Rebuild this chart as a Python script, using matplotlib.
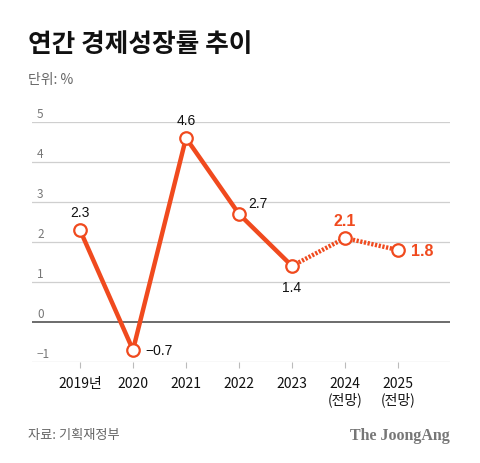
import matplotlib
matplotlib.use("Agg")
from matplotlib import pyplot as plt

plt.rcParams['font.family'] = ['Noto Sans CJK KR', 'DejaVu Sans']

years = ['2019년', '2020', '2021', '2022', '2023', '2024\n(전망)', '2025\n(전망)']
growth = [2.3, -0.7, 4.6, 2.7, 1.4, 2.1, 1.8]
n_actual = 5  # 2019~2023 actual, rest forecast

orange = '#F04A1E'
x = list(range(len(years)))

fig = plt.figure(figsize=(4.8, 4.64), dpi=100)
ax = fig.add_axes([32/480, 101/464, 418/480, 240/464])
ax.set_xlim((32-80)/53, (450-80)/53)
ax.set_ylim(-1, 5)

# grid
for v in range(-1, 6):
    if v == 0:
        ax.axhline(v, color='#6b6b6b', lw=1.4, zorder=1)
    else:
        ax.axhline(v, color='#cfcfcf', lw=0.9, zorder=1)
    ax.text((37-80)/53, v + 0.06, '−1' if v == -1 else str(v),
            color='#777777', fontsize=8.5, va='bottom', ha='left')

# lines
ax.plot(x[:n_actual], growth[:n_actual], color=orange, lw=3.2, zorder=2,
        solid_capstyle='butt')
ax.plot(x[n_actual-1:], growth[n_actual-1:], color=orange, lw=3.2, zorder=2,
        linestyle=(0, (0.5, 0.35)))
ax.plot(x, growth, 'o', ms=9, mfc='white', mec=orange, mew=1.6, zorder=3,
        clip_on=False)

# value labels
offsets = [(0, 8, 'center', 'bottom'), (9, 0, 'left', 'center'),
           (0, 8, 'center', 'bottom'), (7, 3, 'left', 'bottom'),
           (0, -10, 'center', 'top'), (0, 7, 'center', 'bottom'),
           (9, 0, 'left', 'center')]
for i, (dx, dy, ha, va) in enumerate(offsets):
    label = f'{growth[i]:.1f}'.replace('-', '−')
    if i >= n_actual:
        ax.annotate(label, (x[i], growth[i]), xytext=(dx, dy), textcoords='offset points',
                    ha=ha, va=va, fontsize=11.5, fontweight='bold', color=orange,
                    family=['Liberation Sans', 'DejaVu Sans'])
    else:
        ax.annotate(label, (x[i], growth[i]), xytext=(dx, dy), textcoords='offset points',
                    ha=ha, va=va, fontsize=10, color='#111111',
                    family=['Liberation Sans', 'DejaVu Sans'])

for s in ax.spines.values():
    s.set_visible(False)
ax.set_yticks([])
ax.set_xticks(x)
ax.set_xticklabels(years, fontsize=10, color='#111111', linespacing=1.1)
ax.tick_params(axis='x', length=4, color='#bbbbbb', pad=6)

fig.text(28/480, 1 - 45/464, '연간 경제성장률 추이', fontsize=18.5, fontweight='black',
         va='center', ha='left', color='#111111')
fig.text(28/480, 1 - 80/464, '단위: %', fontsize=10, va='center', ha='left', color='#666666')
fig.text(28/480, 1 - 436/464, '자료: 기획재정부', fontsize=9.5, va='center', ha='left',
         color='#666666')
fig.text(450/480, 1 - 436/464, 'The JoongAng', fontsize=11.5, fontweight='bold',
         va='center', ha='right', color='#777777', family=['Liberation Serif', 'DejaVu Serif'])

fig.savefig('out.png', dpi=100)
